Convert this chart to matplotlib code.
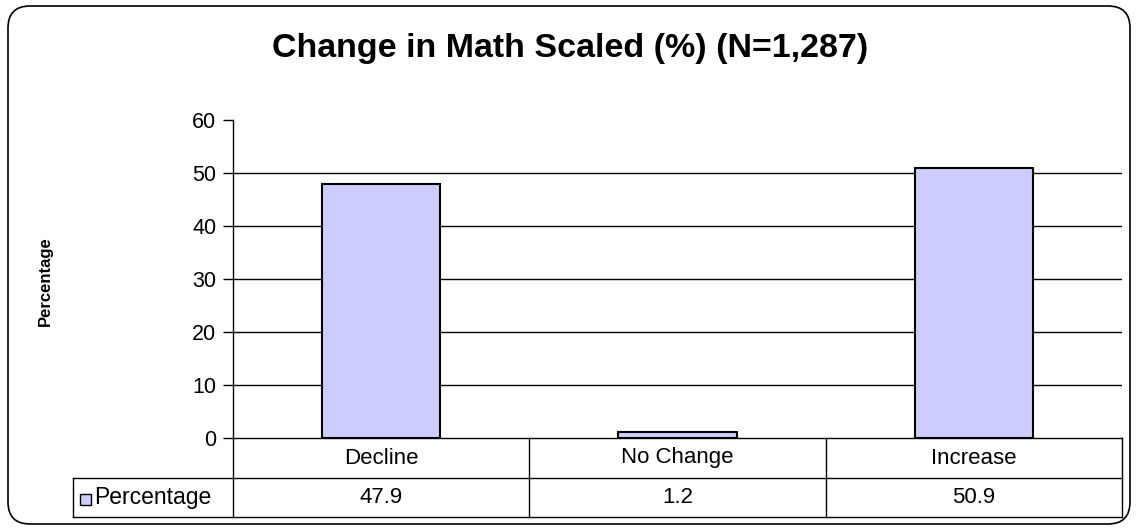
import matplotlib.pyplot as plt
from matplotlib.patches import FancyBboxPatch, Rectangle
from matplotlib.transforms import IdentityTransform, blended_transform_factory

# Data
categories = ["Decline", "No Change", "Increase"]
percentages = [47.9, 1.2, 50.9]
series_name = "Percentage"
yticks = [0, 10, 20, 30, 40, 50, 60]

BAR_COLOR = "#CCCCFF"
plt.rcParams['font.family'] = ['Liberation Sans', 'DejaVu Sans']

fig = plt.figure(figsize=(11.38, 5.31), dpi=100)
ax = fig.add_axes([233 / 1138, 1 - 438 / 531, 889 / 1138, 318 / 531])

x = list(range(len(categories)))
ax.bar(x, percentages, width=0.4, color=BAR_COLOR, edgecolor="black", linewidth=1.5, zorder=3)

ax.set_xlim(-0.5, len(categories) - 0.5)
ax.set_ylim(0, 60)
ax.set_yticks(yticks)
ax.tick_params(axis="y", length=7, width=1, labelsize=15.5, pad=5)
ax.set_xticks([])
for v in yticks[1:-1]:
    ax.axhline(v, color="black", linewidth=1, zorder=1)
for side in ["top", "right", "bottom"]:
    ax.spines[side].set_visible(False)
ax.spines["left"].set_linewidth(1)

# data table under the axes
trans = blended_transform_factory(ax.transData, ax.transAxes)
row1 = 40 / 318
row2 = 39 / 318
lab_left = (73 - 233) / 889
line_kw = dict(color="black", linewidth=1, clip_on=False)
ax.plot([0, 1], [0, 0], transform=ax.transAxes, **line_kw)
ax.plot([lab_left, 1], [-row1, -row1], transform=ax.transAxes, **line_kw)
ax.plot([lab_left, 1], [-row1 - row2, -row1 - row2], transform=ax.transAxes, **line_kw)
ax.plot([lab_left, lab_left], [-row1, -row1 - row2], transform=ax.transAxes, **line_kw)
ax.plot([0, 0], [0, -row1 - row2], transform=ax.transAxes, **line_kw)
ax.plot([1, 1], [0, -row1 - row2], transform=ax.transAxes, **line_kw)
for b in [i + 0.5 for i in x[:-1]]:
    ax.plot([b, b], [0, -row1 - row2], transform=trans, **line_kw)

for i, (cat, val) in enumerate(zip(categories, percentages)):
    ax.text(i, -row1 / 2, cat, transform=trans, ha="center", va="center", fontsize=16)
    ax.text(i, -row1 - row2 / 2, f"{val:.1f}", transform=trans, ha="center", va="center", fontsize=16)

ax.add_patch(Rectangle((lab_left + 7 / 889, -row1 - row2 / 2 - 7 / 318), 11 / 889, 11 / 318,
                       transform=ax.transAxes, facecolor=BAR_COLOR, edgecolor="black",
                       linewidth=1, clip_on=False))
ax.text(lab_left + 21 / 889, -row1 - row2 / 2, series_name, transform=ax.transAxes,
        ha="left", va="center", fontsize=16.5)

fig.text(45 / 1138, 1 - 281 / 531, "Percentage", rotation=90, ha="center", va="center",
         fontsize=12, fontweight="bold")
fig.text(570 / 1138, 1 - 48 / 531, "Change in Math Scaled (%) (N=1,287)", ha="center", va="center",
         fontsize=24.5, fontweight="bold")

# rounded chart border
border = FancyBboxPatch((8, 7), 1122, 518, boxstyle="round,pad=0,rounding_size=22",
                        transform=IdentityTransform(), facecolor="none", edgecolor="black",
                        linewidth=1.2)
fig.patches.append(border)

fig.savefig("out.png", dpi=100)
